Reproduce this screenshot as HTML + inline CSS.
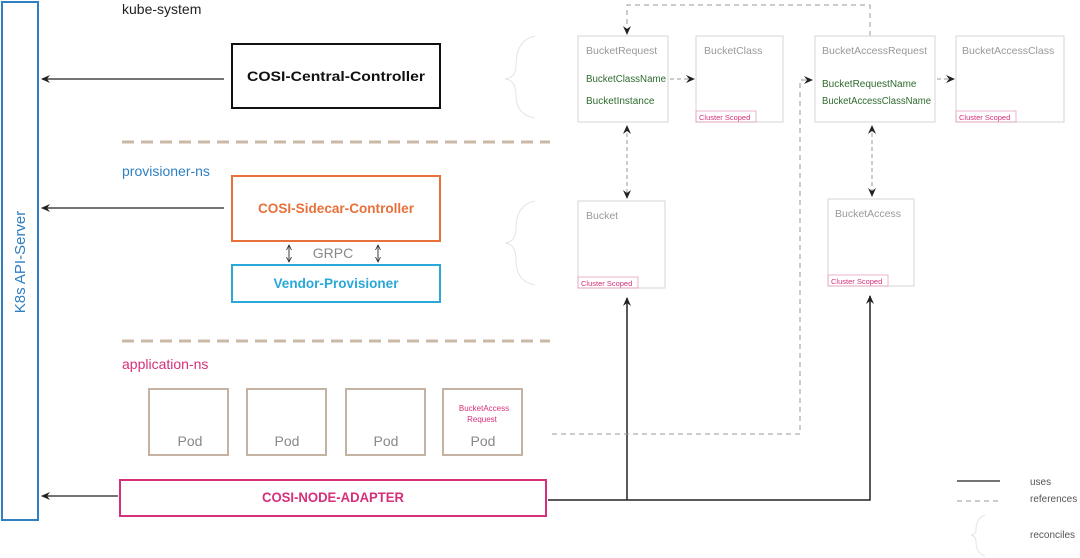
<!DOCTYPE html>
<html><head><meta charset="utf-8"><style>
html,body{margin:0;padding:0;background:#fff}
svg{display:block}
text{font-family:"Liberation Sans",sans-serif}
</style></head><body>
<svg width="1080" height="558" viewBox="0 0 1080 558" xmlns="http://www.w3.org/2000/svg">
<defs>
<marker id="a" markerWidth="10" markerHeight="10" refX="8" refY="5" orient="auto" markerUnits="userSpaceOnUse"><path d="M0,1 L9,5 L0,9 L3,5 z" fill="#222"/></marker>
<marker id="as" markerWidth="10" markerHeight="10" refX="2" refY="5" orient="auto" markerUnits="userSpaceOnUse"><path d="M10,1 L1,5 L10,9 L7,5 z" fill="#222"/></marker>
<marker id="s" markerWidth="6" markerHeight="6" refX="5" refY="3" orient="auto" markerUnits="userSpaceOnUse"><path d="M0,0.5 L5,3 L0,5.5" fill="none" stroke="#222" stroke-width="0.8"/></marker>
<marker id="ss" markerWidth="6" markerHeight="6" refX="1" refY="3" orient="auto" markerUnits="userSpaceOnUse"><path d="M6,0.5 L1,3 L6,5.5" fill="none" stroke="#222" stroke-width="0.8"/></marker>
</defs>
<rect x="2" y="2" width="36" height="518" fill="none" stroke="#2f7fc1" stroke-width="2"/>
<text transform="translate(25,262) rotate(-90)" text-anchor="middle" font-size="15" fill="#2f7fc1">K8s API-Server</text>

<text x="122" y="14" font-size="14" fill="#222">kube-system</text>
<rect x="232" y="44" width="208" height="64" fill="none" stroke="#111" stroke-width="2"/>
<text x="336" y="81" text-anchor="middle" font-size="14" font-weight="bold" fill="#111" textLength="178" lengthAdjust="spacingAndGlyphs">COSI-Central-Controller</text>
<line x1="224" y1="79" x2="42" y2="79" stroke="#222" stroke-width="1.2" marker-end="url(#a)"/>

<line x1="122" y1="142" x2="550" y2="142" stroke="#c9b9a6" stroke-width="3" stroke-dasharray="12,7"/>

<text x="122" y="176" font-size="14" fill="#2f7fc1">provisioner-ns</text>
<rect x="232" y="176" width="208" height="65" fill="none" stroke="#e8703a" stroke-width="2"/>
<text x="336" y="213" text-anchor="middle" font-size="14" font-weight="bold" fill="#e8703a" textLength="156" lengthAdjust="spacingAndGlyphs">COSI-Sidecar-Controller</text>
<line x1="224" y1="208" x2="42" y2="208" stroke="#222" stroke-width="1.2" marker-end="url(#a)"/>
<text x="333" y="258" text-anchor="middle" font-size="14" fill="#888">GRPC</text>
<line x1="289" y1="245" x2="289" y2="262" stroke="#222" stroke-width="0.9" marker-start="url(#ss)" marker-end="url(#s)"/>
<line x1="378" y1="245" x2="378" y2="262" stroke="#222" stroke-width="0.9" marker-start="url(#ss)" marker-end="url(#s)"/>
<rect x="232" y="265" width="208" height="37" fill="none" stroke="#2aa8d8" stroke-width="2"/>
<text x="336" y="288" text-anchor="middle" font-size="14" font-weight="bold" fill="#2aa8d8" textLength="125" lengthAdjust="spacingAndGlyphs">Vendor-Provisioner</text>

<line x1="122" y1="341" x2="550" y2="341" stroke="#c9b9a6" stroke-width="3" stroke-dasharray="12,7"/>

<text x="122" y="369" font-size="14" fill="#d6307a">application-ns</text>
<g fill="none" stroke="#c4b3a2" stroke-width="2">
<rect x="149" y="389" width="79" height="66"/><rect x="247" y="389" width="79" height="66"/>
<rect x="346" y="389" width="79" height="66"/><rect x="443" y="389" width="79" height="66"/>
</g>
<g font-size="14" fill="#888" text-anchor="middle">
<text x="190" y="446">Pod</text><text x="287" y="446">Pod</text><text x="386" y="446">Pod</text><text x="483" y="446">Pod</text>
</g>
<text x="484" y="411" text-anchor="middle" font-size="8" fill="#d6307a">BucketAccess</text>
<text x="482" y="422" text-anchor="middle" font-size="8" fill="#d6307a">Request</text>

<rect x="120" y="480" width="426" height="36" fill="none" stroke="#d6307a" stroke-width="2"/>
<text x="333" y="502" text-anchor="middle" font-size="14" font-weight="bold" fill="#d6307a" textLength="142" lengthAdjust="spacingAndGlyphs">COSI-NODE-ADAPTER</text>
<line x1="118" y1="496" x2="42" y2="496" stroke="#222" stroke-width="1.2" marker-end="url(#a)"/>

<polyline points="548,500 870,500 870,296" fill="none" stroke="#222" stroke-width="1.5" marker-end="url(#a)"/>
<line x1="627" y1="500" x2="627" y2="298" stroke="#222" stroke-width="1.5" marker-end="url(#a)"/>
<polyline points="552,434 800,434 800,80 812,80" fill="none" stroke="#999" stroke-width="1" stroke-dasharray="5,4" marker-end="url(#a)"/>
<polyline points="870,36 870,5 627,5 627,34" fill="none" stroke="#999" stroke-width="1" stroke-dasharray="5,4" marker-end="url(#a)"/>
<line x1="670" y1="79" x2="694" y2="79" stroke="#999" stroke-dasharray="4,3" marker-end="url(#a)"/>
<line x1="937" y1="79" x2="954" y2="79" stroke="#999" stroke-dasharray="4,3" marker-end="url(#a)"/>
<line x1="627" y1="126" x2="627" y2="198" stroke="#999" stroke-dasharray="4,3" marker-start="url(#as)" marker-end="url(#a)"/>
<line x1="872" y1="126" x2="872" y2="196" stroke="#999" stroke-dasharray="4,3" marker-start="url(#as)" marker-end="url(#a)"/>

<g fill="#fff" stroke="#ddd" stroke-width="1.2">
<rect x="578" y="36" width="90" height="86"/><rect x="696" y="36" width="87" height="86"/>
<rect x="815" y="36" width="120" height="86"/><rect x="956" y="36" width="108" height="86"/>
<rect x="578" y="201" width="87" height="87"/><rect x="828" y="199" width="86" height="87"/>
</g>
<g font-size="10.5" fill="#999">
<text x="586" y="54">BucketRequest</text><text x="704" y="54">BucketClass</text>
<text x="822" y="54">BucketAccessRequest</text><text x="962" y="54">BucketAccessClass</text>
<text x="586" y="219">Bucket</text><text x="835" y="217">BucketAccess</text>
</g>
<g font-size="10" fill="#2e6b2e">
<text x="586" y="82" textLength="80" lengthAdjust="spacingAndGlyphs">BucketClassName</text><text x="586" y="104">BucketInstance</text>
<text x="822" y="87">BucketRequestName</text><text x="822" y="104" textLength="109" lengthAdjust="spacingAndGlyphs">BucketAccessClassName</text>
</g>
<g fill="none" stroke="#e8a0c0" stroke-width="0.8">
<rect x="696" y="111" width="60" height="11"/><rect x="956" y="111" width="60" height="11"/>
<rect x="578" y="277" width="60" height="11"/><rect x="828" y="275" width="60" height="11"/>
</g>
<g font-size="7.5" fill="#d6307a">
<text x="699" y="120">Cluster Scoped</text><text x="959" y="120">Cluster Scoped</text>
<text x="581" y="286">Cluster Scoped</text><text x="831" y="284">Cluster Scoped</text>
</g>
<g fill="none" stroke="#e4e4e4" stroke-width="1">
<path d="M535,36 Q516,40 516,65 Q516,78 505,79 Q516,80 516,95 Q516,115 535,118"/>
<path d="M535,201 Q516,205 516,228 Q516,242 505,243 Q516,244 516,260 Q516,282 535,285"/>
<path d="M985,515 Q976,518 976,530 Q976,534 971,535 Q976,536 976,542 Q976,553 985,556"/>
</g>
<line x1="957" y1="481" x2="1000" y2="481" stroke="#222" stroke-width="1.2"/>
<line x1="957" y1="501" x2="1000" y2="501" stroke="#999" stroke-dasharray="5,4"/>
<g font-size="10" fill="#555">
<text x="1030" y="485">uses</text><text x="1030" y="502">references</text><text x="1030" y="538">reconciles</text>
</g>
</svg>
</body></html>
